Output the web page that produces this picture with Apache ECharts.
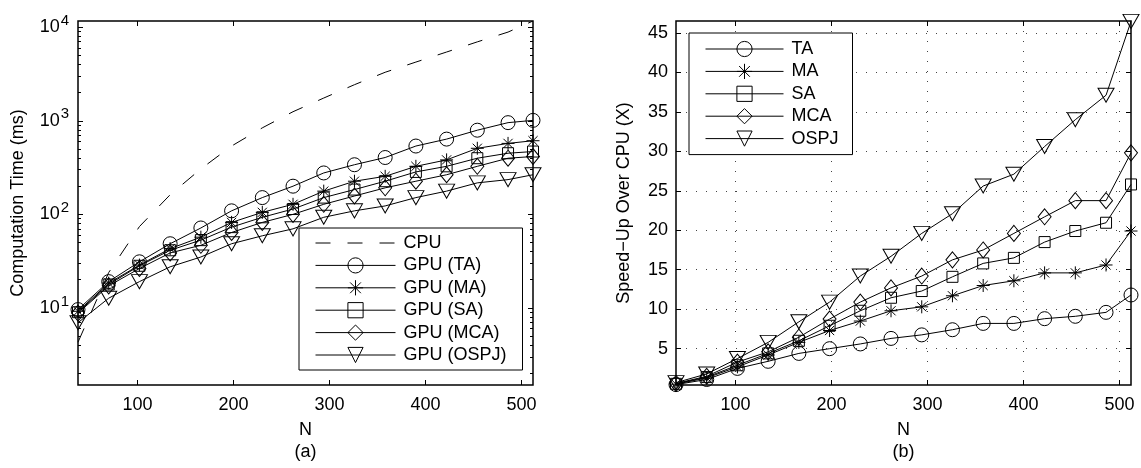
<!DOCTYPE html>
<html>
<head>
<meta charset="utf-8">
<title>Computation time and speed-up</title>
<script src="https://cdn.jsdelivr.net/npm/echarts@6/dist/echarts.min.js"></script>
<style>
  html, body { margin: 0; padding: 0; background: #fff; }
  #chart { width: 1141px; height: 468px; }
</style>
</head>
<body>
<div id="chart"></div>
<script>
// Problem sizes
const sizesN = [38, 70, 102, 134, 166, 198, 230, 262, 294, 326, 358, 390, 422, 454, 486, 512];

// (a) computation time in ms
const cpuTime  = [4.3, 23.9, 74, 162, 306, 537, 840, 1250, 1750, 2430, 3300, 4240, 5430, 6970, 8870, 11650];
const gpuTA    = [9.6, 19.1, 31.1, 48.5, 71.5, 109, 151, 200, 277, 339, 405, 537, 637, 793, 955, 1010];
const gpuMA    = [9.2, 18.4, 28.7, 43, 57, 82, 105, 128, 177, 226, 255, 326, 382, 508, 573, 612];
const gpuSA    = [9.0, 17.8, 28.2, 41.3, 53, 73, 93, 114, 151, 184, 226, 284, 326, 398, 450, 469];
const gpuMCA   = [8.8, 17.2, 26.4, 38.7, 46.7, 64, 82, 100, 128, 157, 192, 226, 265, 326, 398, 415];
const gpuOSPJ  = [6.95, 12.7, 19.1, 27.5, 35, 48.5, 59, 70, 93, 109, 123, 151, 177, 217, 235, 265];

// (b) speed-up over CPU
const speedTA   = [0.45, 1.1, 2.5, 3.4, 4.4, 5.0, 5.6, 6.3, 6.75, 7.4, 8.2, 8.2, 8.8, 9.1, 9.6, 11.8];
const speedMA   = [0.5, 1.3, 2.7, 4.2, 5.8, 7.3, 8.5, 9.8, 10.3, 11.7, 13.0, 13.6, 14.6, 14.6, 15.6, 19.9];
const speedSA   = [0.55, 1.4, 2.9, 4.4, 6.0, 7.9, 9.8, 11.45, 12.3, 14.1, 15.8, 16.5, 18.5, 19.9, 20.95, 25.8];
const speedMCA  = [0.6, 1.5, 3.3, 4.6, 6.45, 8.75, 10.9, 12.7, 14.2, 16.25, 17.5, 19.6, 21.7, 23.75, 23.75, 29.8];
const speedOSPJ = [0.7, 1.8, 3.75, 5.8, 8.4, 10.9, 14.2, 16.7, 19.6, 22.1, 25.6, 27.1, 30.6, 34.0, 37.1, 46.45];

// Tick labels
const xTicks = [100, 200, 300, 400, 500];
const logMajorTicks = [10, 100, 1000, 10000];
const speedTicks = [5, 10, 15, 20, 25, 30, 35, 40, 45];

// Axis extents
const xMin = 38, xMax = 512;
const timeMin = 1.5, timeMax = 11650;
const speedMin = 0.4, speedMax = 46.5;

// Minor ticks of the log axis: 2..9 within each decade
const logMinorTicks = [];
[1, 10, 100, 1000].forEach(function (d) {
  for (let k = 2; k <= 9; k++) logMinorTicks.push(k * d);
});

const FONT = 'Liberation Sans, Arial, Helvetica, sans-serif';
const txt = { fontFamily: FONT, fontSize: 18, color: '#000' };

const STAR = 'path://M0,-1 L0,1 M-1,0 L1,0 M-0.707,-0.707 L0.707,0.707 M-0.707,0.707 L0.707,-0.707';
const TRI_DOWN = 'path://M-1,-0.8 L1,-0.8 L0,0.9 Z';

const markers = {
  TA:   { symbol: 'circle',  size: 14 },
  MA:   { symbol: STAR,      size: 13 },
  SA:   { symbol: 'rect',    size: 11 },
  MCA:  { symbol: 'diamond', size: [13, 16] },
  OSPJ: { symbol: TRI_DOWN,  size: [16, 14] }
};

function pairs(values) {
  return sizesN.map(function (n, i) { return [n, values[i]]; });
}

function markedSeries(name, key, values, xi, yi) {
  return {
    name: name,
    type: 'line',
    xAxisIndex: xi,
    yAxisIndex: yi,
    data: pairs(values),
    symbol: markers[key].symbol,
    symbolSize: markers[key].size,
    showSymbol: true,
    lineStyle: { color: '#000', width: 1 },
    itemStyle: { color: 'rgba(0,0,0,0)', borderColor: '#000', borderWidth: 1 },
    emphasis: { disabled: true },
    z: 3
  };
}

function xAxisPair(gridIndex, splitLine) {
  const bottom = {
    type: 'value', gridIndex: gridIndex, position: 'bottom',
    min: xMin, max: xMax,
    name: gridIndex === 0 ? 'N\n(a)' : 'N\n(b)',
    nameLocation: 'middle', nameGap: 34,
    nameTextStyle: Object.assign({ lineHeight: 22 }, txt),
    axisLine: { show: false },
    axisTick: { show: true, inside: true, length: 5, customValues: xTicks, lineStyle: { color: '#000', width: 1 } },
    axisLabel: Object.assign({ customValues: xTicks, margin: 11 }, txt),
    splitLine: splitLine
      ? { show: true, lineStyle: { color: '#444', width: 1, type: [1, 9] } }
      : { show: false }
  };
  const top = {
    type: 'value', gridIndex: gridIndex, position: 'top',
    min: xMin, max: xMax,
    axisLine: { show: false },
    axisTick: { show: true, inside: true, length: 5, customValues: xTicks, lineStyle: { color: '#000', width: 1 } },
    axisLabel: { show: false },
    splitLine: { show: false }
  };
  return [bottom, top];
}

function logAxis(position, ticks, len, withLabels) {
  const ax = {
    type: 'log', logBase: 10, gridIndex: 0, position: position,
    min: timeMin, max: timeMax,
    axisLine: { show: false },
    axisTick: { show: true, inside: true, length: len, customValues: ticks, lineStyle: { color: '#000', width: 1 } },
    axisLabel: { show: false },
    splitLine: { show: false }
  };
  if (withLabels) {
    ax.name = 'Computation Time (ms)';
    ax.nameLocation = 'middle';
    ax.nameGap = 51;
    ax.nameTextStyle = txt;
    ax.axisLabel = {
      show: true,
      customValues: ticks,
      margin: 9,
      padding: [0, 0, 5, 0],
      formatter: function (v) { return '{b|10}{e|' + Math.round(Math.log10(v)) + '}'; },
      rich: {
        b: { fontFamily: FONT, fontSize: 18, color: '#000', verticalAlign: 'bottom' },
        e: { fontFamily: FONT, fontSize: 15, color: '#000', verticalAlign: 'bottom', padding: [0, 0, 8, 1] }
      }
    };
  }
  return ax;
}

function speedAxis(position, withLabels) {
  const ax = {
    type: 'value', gridIndex: 1, position: position,
    min: speedMin, max: speedMax,
    axisLine: { show: false },
    axisTick: { show: true, inside: true, length: 5, customValues: speedTicks, lineStyle: { color: '#000', width: 1 } },
    axisLabel: { show: false },
    splitLine: { show: false }
  };
  if (withLabels) {
    ax.name = 'Speed\u2212Up Over CPU (X)';
    ax.nameLocation = 'middle';
    ax.nameGap = 43;
    ax.nameTextStyle = txt;
    ax.axisLabel = Object.assign({ show: true, customValues: speedTicks, margin: 8 }, txt);
    ax.splitLine = { show: true, lineStyle: { color: '#444', width: 1, type: [1, 9] } };
  }
  return ax;
}

const chart = echarts.init(document.getElementById('chart'), null, { renderer: 'canvas' });

const leftNames = ['CPU', 'GPU (TA)', 'GPU (MA)', 'GPU (SA)', 'GPU (MCA)', 'GPU (OSPJ)'];
const rightNames = ['TA', 'MA', 'SA', 'MCA', 'OSPJ'];

const legendBase = {
  orient: 'vertical',
  backgroundColor: '#fff',
  borderColor: '#000',
  borderWidth: 1,
  itemHeight: 19,
  itemGap: 4.4,
  lineStyle: { width: 1 },
  itemStyle: { borderWidth: 1 },
  textStyle: Object.assign({ padding: [0, 0, 0, 3] }, txt),
  selectedMode: false
};

chart.setOption({
  animation: false,
  backgroundColor: '#fff',
  grid: [
    { left: 78, top: 21, width: 455, height: 369, show: true, borderColor: '#000', borderWidth: 1.5, backgroundColor: 'transparent' },
    { left: 676, top: 21, width: 455, height: 369, show: true, borderColor: '#000', borderWidth: 1.5, backgroundColor: 'transparent' }
  ],
  xAxis: xAxisPair(0, false).concat(xAxisPair(1, true)),
  yAxis: [
    logAxis('left', logMajorTicks, 5, true),
    logAxis('left', logMinorTicks, 3, false),
    logAxis('right', logMajorTicks, 5, false),
    logAxis('right', logMinorTicks, 3, false),
    speedAxis('left', true),
    speedAxis('right', false)
  ],
  legend: [
    Object.assign({}, legendBase, {
      data: leftNames, left: 299, top: 228, itemWidth: 80,
      padding: [6, 16, 6, 16]
    }),
    Object.assign({}, legendBase, {
      data: rightNames, left: 689, top: 33, itemWidth: 78,
      padding: [7, 14, 7, 16]
    })
  ],
  series: [
    {
      name: 'CPU', type: 'line', xAxisIndex: 0, yAxisIndex: 0,
      data: pairs(cpuTime), symbol: 'none',
      lineStyle: { color: '#000', width: 1, type: [15, 17] },
      itemStyle: { color: 'rgba(0,0,0,0)', borderWidth: 0 },
      emphasis: { disabled: true }, z: 3
    },
    markedSeries('GPU (TA)', 'TA', gpuTA, 0, 0),
    markedSeries('GPU (MA)', 'MA', gpuMA, 0, 0),
    markedSeries('GPU (SA)', 'SA', gpuSA, 0, 0),
    markedSeries('GPU (MCA)', 'MCA', gpuMCA, 0, 0),
    markedSeries('GPU (OSPJ)', 'OSPJ', gpuOSPJ, 0, 0),
    markedSeries('TA', 'TA', speedTA, 2, 4),
    markedSeries('MA', 'MA', speedMA, 2, 4),
    markedSeries('SA', 'SA', speedSA, 2, 4),
    markedSeries('MCA', 'MCA', speedMCA, 2, 4),
    markedSeries('OSPJ', 'OSPJ', speedOSPJ, 2, 4)
  ]
});
</script>
</body>
</html>
